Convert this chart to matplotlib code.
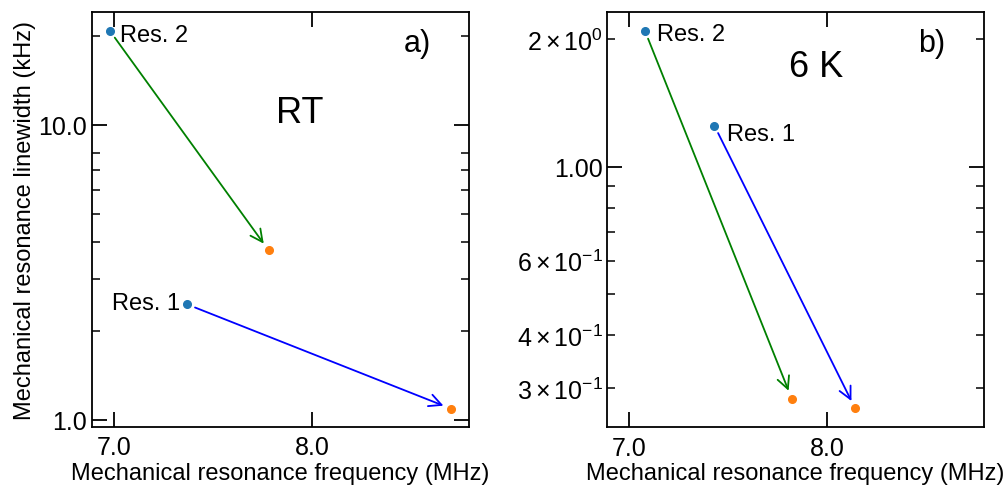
import numpy as np
import matplotlib.pyplot as plt
from matplotlib.ticker import FixedLocator, FormatStrFormatter, NullFormatter

plt.rcParams['font.family'] = ['Liberation Sans', 'DejaVu Sans']
plt.rcParams['mathtext.fontset'] = 'custom'
plt.rcParams['mathtext.rm'] = 'Liberation Sans'
plt.rcParams['mathtext.it'] = 'Liberation Sans:italic'
plt.rcParams['mathtext.bf'] = 'Liberation Sans:bold'

# room temperature (MHz, kHz): before -> after
rt_freq_before = [7.37, 6.98]
rt_width_before = [2.46, 20.8]
rt_freq_after = [8.70, 7.78]
rt_width_after = [1.09, 3.75]

# 6 K
lt_freq_before = [7.43, 7.08]
lt_width_before = [1.25, 2.09]
lt_freq_after = [8.14, 7.82]
lt_width_after = [0.269, 0.284]

res_names = ['Res. 1', 'Res. 2']
arrow_colors = ['blue', 'green']

# y ticks
rt_major = [1.0, 10.0]
rt_minor = [2, 3, 4, 5, 6, 7, 8, 20]
lt_major = [1.0]
lt_minor = [0.3, 0.4, 0.5, 0.6, 0.7, 0.8, 0.9, 2.0]
lt_minor_labels = [r'$\mathdefault{3\times10^{-1}}$', r'$\mathdefault{4\times10^{-1}}$', '',
                   r'$\mathdefault{6\times10^{-1}}$', '', '', '', r'$\mathdefault{2\times10^{0}}$']

fig = plt.figure(figsize=(10.08, 4.89), dpi=100)
ax1 = fig.add_axes([0.0913, 0.1247, 0.374, 0.8487])
ax2 = fig.add_axes([0.6025, 0.1240, 0.3737, 0.8500])


def draw_panel(ax, fb, wb, fa, wa, label_offsets):
    ax.set_yscale('log')
    ax.plot(fb, wb, 'o', color='#1f77b4', ms=5.5, zorder=3)
    ax.plot(fa, wa, 'o', color='#ff7f0e', ms=5.5, zorder=3)
    for i in range(len(fb)):
        ax.annotate('', xy=(fa[i], wa[i]), xytext=(fb[i], wb[i]),
                    arrowprops=dict(arrowstyle='->', color=arrow_colors[i], lw=1.3,
                                    shrinkA=6, shrinkB=6, mutation_scale=22))
        dx, dy, ha = label_offsets[i]
        ax.annotate(res_names[i], xy=(fb[i], wb[i]), xytext=(dx, dy),
                    textcoords='offset points', ha=ha, va='center', fontsize=17)
    ax.set_xlim(6.89, 8.79)
    ax.set_xticks([7.0, 8.0])
    ax.xaxis.set_major_formatter(FormatStrFormatter('%.1f'))
    ax.set_xlabel('Mechanical resonance frequency (MHz)', fontsize=17, labelpad=2)
    ax.tick_params(which='both', direction='in', top=True, right=True, labelsize=18)
    ax.tick_params(which='major', length=10.5, width=1.3)
    ax.tick_params(which='minor', length=5.5, width=1.1)
    ax.tick_params(axis='x', pad=6)
    for sp in ax.spines.values():
        sp.set_linewidth(1.3)


draw_panel(ax1, rt_freq_before, rt_width_before, rt_freq_after, rt_width_after,
           [(-5, 1, 'right'), (7, -3, 'left')])
ax1.set_ylim(0.945, 24.1)
ax1.yaxis.set_major_locator(FixedLocator(rt_major))
ax1.yaxis.set_minor_locator(FixedLocator(rt_minor))
ax1.yaxis.set_major_formatter(FormatStrFormatter('%.1f'))
ax1.yaxis.set_minor_formatter(NullFormatter())
ax1.set_ylabel('Mechanical resonance linewidth (kHz)', fontsize=17, labelpad=2)
ax1.text(0.552, 0.759, 'RT', transform=ax1.transAxes, fontsize=26, ha='center', va='center')
ax1.text(0.862, 0.925, 'a)', transform=ax1.transAxes, fontsize=22, ha='center', va='center')

draw_panel(ax2, lt_freq_before, lt_width_before, lt_freq_after, lt_width_after,
           [(9, -6, 'left'), (9, -2, 'left')])
ax2.set_ylim(0.2428, 2.32)
ax2.yaxis.set_major_locator(FixedLocator(lt_major))
ax2.yaxis.set_minor_locator(FixedLocator(lt_minor))
ax2.yaxis.set_major_formatter(FormatStrFormatter('%.2f'))
ax2.set_yticklabels(lt_minor_labels, minor=True)
ax2.text(0.555, 0.867, '6 K', transform=ax2.transAxes, fontsize=26, ha='center', va='center')
ax2.text(0.862, 0.925, 'b)', transform=ax2.transAxes, fontsize=22, ha='center', va='center')

fig.savefig('out.png', dpi=100)
